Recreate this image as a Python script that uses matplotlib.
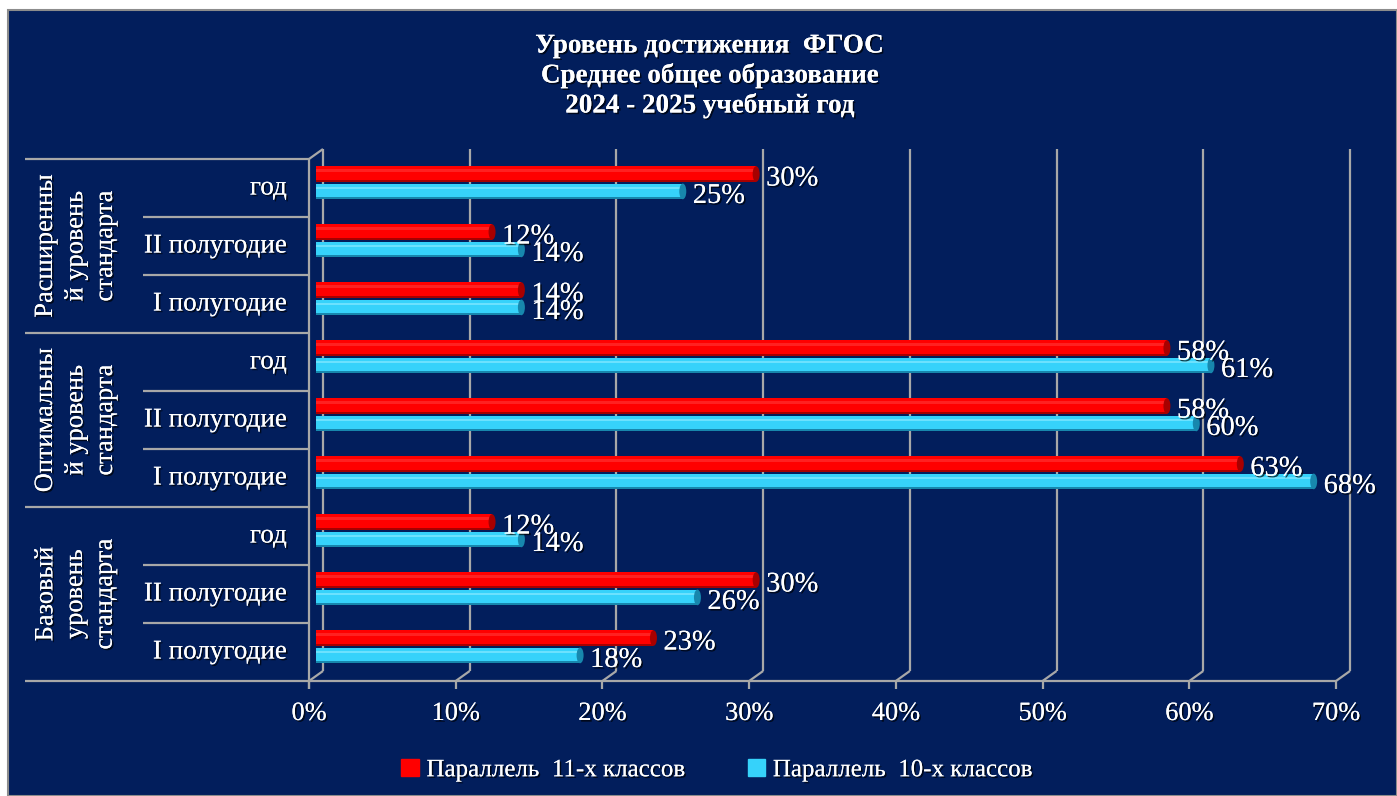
import matplotlib.pyplot as plt
import matplotlib.patheffects as pe
from matplotlib.patches import Patch, Rectangle, Ellipse

# data (bottom row first, as matplotlib draws barh from the bottom up)
groups = ['Базовый\nуровень\nстандарта', 'Оптимальны\nй уровень\nстандарта', 'Расширенны\nй уровень\nстандарта']
periods = ['I полугодие', 'II полугодие', 'год']
row_labels = periods * 3
grade11 = [0.23, 0.30, 0.12, 0.63, 0.58, 0.58, 0.14, 0.12, 0.30]
grade10 = [0.18, 0.26, 0.14, 0.68, 0.60, 0.61, 0.14, 0.14, 0.25]
series = ['Параллель  11-х классов', 'Параллель  10-х классов']
xticks = [0, 0.1, 0.2, 0.3, 0.4, 0.5, 0.6, 0.7]
title = 'Уровень достижения  ФГОС\nСреднее общее образование\n2024 - 2025 учебный год'

plt.rcParams['font.family'] = ['Liberation Serif', 'DejaVu Serif']

W, H = 1397, 796
navy = '#021e5c'
grid = '#a8a8a8'
red, red_dk, red_lt = '#ff0000', '#a80000', '#ff2a2a'
cyan, cyan_dk, cyan_lt = '#36d2fa', '#1787ad', '#7ae6ff'
shadow = [pe.withSimplePatchShadow(offset=(1.2, -1.2), shadow_rgbFace='black', alpha=0.7), pe.Normal()]

fig = plt.figure(figsize=(W / 100, H / 100), dpi=100, facecolor='white')
fig.patches.append(Rectangle((8 / W, 0), 1 - 8 / W, 786 / H, transform=fig.transFigure,
                             facecolor=navy, edgecolor='#8c8c8c', lw=1.5, zorder=-10))

# axes = middle depth plane of the 3d chart
left, right, top, bottom = 316, 1343, 154, 676
ax = fig.add_axes([left / W, 1 - bottom / H, (right - left) / W, (bottom - top) / H])
ax.set_xlim(0, 0.7)
ax.set_ylim(-0.5, 8.5)
ax.axis('off')

px = 0.7 / (right - left)      # one pixel in x data units
py = 9.0 / (bottom - top)      # one pixel in y data units
dx, dy = 7 * px, 5 * py        # half depth offset

line_kw = dict(color=grid, lw=1.6, clip_on=False, zorder=1, solid_capstyle='butt')
y0, y1 = -0.5, 8.5
# back wall gridlines + floor diagonals + front ticks
for t in xticks:
    ax.plot([t + dx, t + dx], [y0 + dy, y1 + dy], **line_kw)
    ax.plot([t - dx, t + dx], [y0 - dy, y0 + dy], **line_kw)
    ax.plot([t - dx, t - dx], [y0 - dy, y0 - dy - 8 * py], **line_kw)
    ax.annotate(f'{int(round(t * 100))}%', (t - dx, y0 - dy - 33 * py), ha='center', va='center',
                color='white', fontsize=19, annotation_clip=False, path_effects=shadow)
# front axis lines
ax.plot([-dx, 0.7 - dx], [y0 - dy, y0 - dy], **line_kw)
ax.plot([-dx, -dx], [y0 - dy - 8 * py, y1 - dy], **line_kw)
ax.plot([-dx, dx], [y1 - dy, y1 + dy], **line_kw)

# category table on the left
for k in range(10):
    xl = -(left - 25) * px if k % 3 == 0 else -(left - 143) * px
    ax.plot([xl, -dx], [k - 0.5 - dy, k - 0.5 - dy], **line_kw)
for i, lab in enumerate(row_labels):
    ax.annotate(lab, (-dx - 22 * px, i - dy), ha='right', va='center', color='white',
                fontsize=19.5, annotation_clip=False, path_effects=shadow)
for g, lab in enumerate(groups):
    ax.annotate(lab, (-(left - 76) * px, 3 * g + 1 - dy), ha='center', va='center', rotation=90,
                multialignment='center', linespacing=1.45, color='white', fontsize=19,
                annotation_clip=False, path_effects=shadow)

# cylinder-like bars
h = 0.27
ypos = list(range(len(row_labels)))
for vals, off, base, dk, lt in [(grade11, 0.155, red, red_dk, red_lt),
                                (grade10, -0.145, cyan, cyan_dk, cyan_lt)]:
    yy = [y + off for y in ypos]
    ax.barh(yy, vals, height=h, color=base, zorder=3)
    ax.barh([y - h * 0.43 for y in yy], vals, height=h * 0.14, color=dk, zorder=3)
    ax.barh([y + h * 0.22 for y in yy], vals, height=h * 0.14, color=lt, alpha=0.8, zorder=3)
    for v, y in zip(vals, yy):
        ax.add_patch(Ellipse((v, y), 7 * px, h, facecolor=dk, edgecolor='none', zorder=4))
        ax.annotate(f'{int(round(v * 100))}%', (v + 10 * px, y - 5 * py), ha='left', va='center',
                    color='white', fontsize=20.5, zorder=5, annotation_clip=False, path_effects=shadow)

fig.text(710 / W, 1 - 76 / H, title, ha='center', va='center', color='white', fontsize=19.5,
         fontweight='bold', linespacing=1.2, path_effects=shadow)

handles = [Patch(color=red), Patch(color=cyan)]
leg = fig.legend(handles, series, loc='center', bbox_to_anchor=(717 / W, 1 - 770 / H), ncol=2,
                 frameon=False, fontsize=18, handlelength=0.7, handleheight=0.7,
                 handletextpad=0.3, columnspacing=2.5, labelcolor='white')
for t in leg.get_texts():
    t.set_path_effects(shadow)

fig.savefig('out.png', dpi=100, facecolor=fig.get_facecolor())
